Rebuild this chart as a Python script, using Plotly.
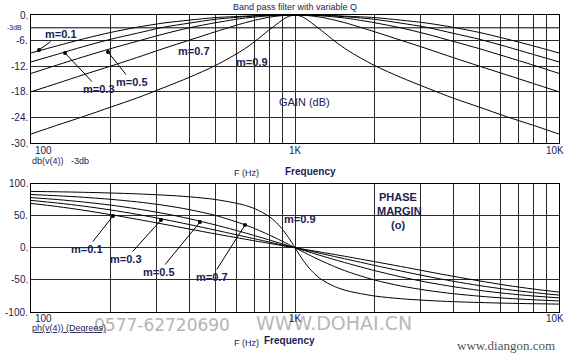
import plotly.graph_objects as go

# ---------------- data ----------------
freq = [100, 126, 158, 200, 251, 316, 398, 501, 631, 708, 794, 841, 891, 944, 1000,
        1059, 1122, 1189, 1259, 1413, 1585, 1995, 2512, 3162, 3981, 5000, 6310, 7943, 10000]

m_labels = ["m=0.1", "m=0.3", "m=0.5", "m=0.7", "m=0.9"]

gain_m01 = [-8.9, -7.2, -5.6, -4.1, -2.9, -1.9, -1.2, -0.6, -0.3, -0.15, -0.06, -0.04, -0.01, -0.01, 0,
            -0.01, -0.01, -0.04, -0.06, -0.15, -0.3, -0.6, -1.2, -1.9, -2.9, -4.1, -5.6, -7.2, -8.9]
gain_m03 = [-11.0, -9.2, -7.4, -5.7, -4.3, -2.9, -1.9, -1.0, -0.45, -0.25, -0.1, -0.06, -0.02, -0.01, 0,
            -0.01, -0.02, -0.06, -0.1, -0.25, -0.45, -1.0, -1.9, -2.9, -4.3, -5.7, -7.4, -9.2, -11.0]
gain_m05 = [-13.7, -11.7, -9.8, -7.9, -6.2, -4.5, -3.0, -1.8, -0.8, -0.46, -0.2, -0.12, -0.05, -0.03, 0,
            -0.03, -0.05, -0.12, -0.2, -0.46, -0.8, -1.8, -3.0, -4.5, -6.2, -7.9, -9.8, -11.7, -13.7]
gain_m07 = [-18.0, -16.0, -14.0, -12.0, -10.0, -7.9, -5.9, -3.9, -2.0, -1.2, -0.54, -0.32, -0.15, -0.04, 0,
            -0.04, -0.15, -0.32, -0.54, -1.2, -2.0, -3.9, -5.9, -7.9, -10.0, -12.0, -14.0, -16.0, -18.0]
gain_m09 = [-27.9, -25.8, -23.8, -21.6, -19.5, -17.1, -14.6, -11.8, -8.3, -6.1, -3.6, -2.45, -1.25, -0.35, 0,
            -0.35, -1.25, -2.45, -3.6, -6.1, -8.3, -11.8, -14.6, -17.1, -19.5, -21.6, -23.8, -25.8, -27.9]

phase_m01 = [69.0, 64.1, 58.4, 51.6, 44.5, 36.9, 29.1, 21.5, 14.1, 10.5, 7.0, 5.2, 3.5, 1.7, 0,
             -1.7, -3.5, -5.2, -7.0, -10.5, -14.1, -21.5, -29.1, -36.9, -44.5, -51.6, -58.4, -64.1, -69.0]
phase_m03 = [73.7, 69.6, 64.8, 58.9, 52.2, 44.5, 36.1, 27.3, 18.2, 13.7, 9.1, 6.8, 4.6, 2.3, 0,
             -2.3, -4.6, -6.8, -9.1, -13.7, -18.2, -27.3, -36.1, -44.5, -52.2, -58.9, -64.8, -69.6, -73.7]
phase_m05 = [78.0, 75.0, 71.2, 66.4, 60.6, 53.6, 45.2, 35.4, 24.4, 18.5, 12.5, 9.4, 6.3, 3.1, 0,
             -3.1, -6.3, -9.4, -12.5, -18.5, -24.4, -35.4, -45.2, -53.6, -60.6, -66.4, -71.2, -75.0, -78.0]
phase_m07 = [82.8, 80.9, 78.6, 75.4, 71.5, 66.3, 59.4, 50.1, 37.3, 29.4, 20.4, 15.6, 10.5, 5.3, 0,
             -5.3, -10.5, -15.6, -20.4, -29.4, -37.3, -50.1, -59.4, -66.3, -71.5, -75.4, -78.6, -80.9, -82.8]
phase_m09 = [87.7, 87.1, 86.3, 85.2, 83.9, 82.0, 79.3, 75.0, 67.2, 60.4, 49.3, 41.0, 30.0, 16.1, 0,
             -16.1, -30.0, -41.0, -49.3, -60.4, -67.2, -75.0, -79.3, -82.0, -83.9, -85.2, -86.3, -87.1, -87.7]

gain_ticks = [0, -6, -12, -18, -24, -30]
gain_ticktext = ["0.", "-6.", "-12.", "-18.", "-24.", "-30."]
phase_ticks = [100, 50, 0, -50, -100]
phase_ticktext = ["100.", "50.", "0.", "-50.", "-100."]
x_ticks = [100, 1000, 10000]
x_ticktext = ["100", "1K", "10K"]

gains = [gain_m01, gain_m03, gain_m05, gain_m07, gain_m09]
phases = [phase_m01, phase_m03, phase_m05, phase_m07, phase_m09]

# ---------------- figure ----------------
W, H = 576, 355
ML, MR, MT, MB = 31, 17, 15, 43
PW, PH = W - ML - MR, H - MT - MB
NAVY = "#1c1c55"
FONT = "Liberation Sans, Arial, sans-serif"


def px(x, y):
    return (x - ML) / PW, (H - MB - y) / PH


fig = go.Figure()
for g in gains:
    fig.add_trace(go.Scatter(x=freq, y=g, mode="lines", xaxis="x", yaxis="y",
                             line=dict(color="black", width=1, shape="spline", smoothing=0.8),
                             showlegend=False, hoverinfo="skip"))
for p in phases:
    fig.add_trace(go.Scatter(x=freq, y=p, mode="lines", xaxis="x2", yaxis="y2",
                             line=dict(color="black", width=1, shape="spline", smoothing=0.8),
                             showlegend=False, hoverinfo="skip"))

top_bottom = (H - MB - 143) / PH
bot_top = (H - MB - 183.5) / PH

axis_common = dict(showline=True, linecolor="black", linewidth=1, mirror=True,
                   showgrid=True, gridcolor="#2a2a2a", gridwidth=1, zeroline=False,
                   showticklabels=False, ticks="")

fig.update_layout(
    width=W, height=H,
    margin=dict(l=ML, r=MR, t=MT, b=MB),
    paper_bgcolor="white", plot_bgcolor="white",
    font=dict(family=FONT, color=NAVY, size=10),
    xaxis=dict(type="log", range=[2, 4], dtick="D1", anchor="y", domain=[0, 1], **axis_common),
    yaxis=dict(range=[-30, 0], tickvals=gain_ticks, anchor="x", domain=[top_bottom, 1], **axis_common),
    xaxis2=dict(type="log", range=[2, 4], dtick="D1", anchor="y2", domain=[0, 1], **axis_common),
    yaxis2=dict(range=[-100, 100], tickvals=phase_ticks, anchor="x2", domain=[0, bot_top], **axis_common),
)

# -3 dB line
fig.add_shape(type="line", xref="x domain", yref="y", x0=0, x1=1, y0=-3, y1=-3,
              line=dict(color="black", width=1))

ann = []


def text(x, y, s, size=10, color=NAVY, xanchor="center", bold=False, family=FONT):
    ax_, ay_ = px(x, y)
    ann.append(dict(xref="paper", yref="paper", x=ax_, y=ay_, text=("<b>%s</b>" % s) if bold else s,
                    showarrow=False, xanchor=xanchor, yanchor="middle",
                    font=dict(size=size, color=color, family=family)))


# watermarks first (drawn underneath the other texts)
text(162, 325, "0577-62720690", size=17, color="#b4b4b4", family="DejaVu Sans")
text(334, 323, "WWW.DOHAI.CN", size=19, color="#b8b8b8", family="DejaVu Sans")
text(506, 345, "www.diangon.com", size=13, color="#555555", family="Liberation Serif, DejaVu Serif, serif")

# y tick labels
for v, t in zip(gain_ticks, gain_ticktext):
    ann.append(dict(xref="paper", yref="y", x=-0.002, y=v, text=t, showarrow=False,
                    xanchor="right", yanchor="middle", font=dict(size=10, color=NAVY)))
for v, t in zip(phase_ticks, phase_ticktext):
    ann.append(dict(xref="paper", yref="y2", x=-0.002, y=v, text=t, showarrow=False,
                    xanchor="right", yanchor="middle", font=dict(size=10, color=NAVY)))
# x tick labels
xpos = {100: (33, "left"), 1000: (295, "center"), 10000: (555, "center")}
for v, t in zip(x_ticks, x_ticktext):
    xx, anc = xpos[v]
    text(xx, 150, t, size=10, xanchor=anc)
    text(xx, 318, t, size=10, xanchor=anc)

text(14, 27, "-3dB", size=7)
text(295, 7, "Band pass filter with variable Q", size=9)
text(304, 102, "GAIN (dB)", size=11)
text(30, 161, "db(v(4))&nbsp;&nbsp;&nbsp;-3db", size=9, xanchor="left")
text(246, 173, "F (Hz)", size=9)
text(310, 172, "Frequency", size=10, bold=True)
text(246, 343, "F (Hz)", size=9)
text(289, 340, "Frequency", size=10, bold=True)
text(30, 328, "<u>ph(v(4)) (Degrees)</u>", size=9, xanchor="left")
text(398, 197, "<b>PHASE</b>", size=11)
text(399, 211, "<b>MARGIN</b>", size=11)
text(398, 225, "<b>(o)</b>", size=11)

# curve labels without arrows
text(194, 51, "m=0.7", size=11, bold=True)
text(252, 62, "m=0.9", size=11, bold=True)
text(300, 219, "m=0.9", size=11, bold=True)


def arrow_label(tx, ty, hx, hy, s):
    hxp, hyp = px(hx, hy)
    ann.append(dict(xref="paper", yref="paper", x=hxp, y=hyp, text="<b>%s</b>" % s,
                    showarrow=True, arrowhead=6, arrowsize=1.0, arrowwidth=1, arrowcolor="black",
                    ax=tx - hx, ay=ty - hy, standoff=0, startstandoff=0,
                    font=dict(size=11, color=NAVY)))


arrow_label(61, 34, 39, 50, m_labels[0])
arrow_label(99, 89, 65, 53, m_labels[1])
arrow_label(132, 82, 108, 52, m_labels[2])
arrow_label(87, 249, 113, 216, m_labels[0])
arrow_label(126, 259, 161, 220, m_labels[1])
arrow_label(159, 272, 200, 222, m_labels[2])
arrow_label(212, 277, 245, 225, m_labels[3])

fig.update_layout(annotations=ann)
fig.write_html("out.html")
